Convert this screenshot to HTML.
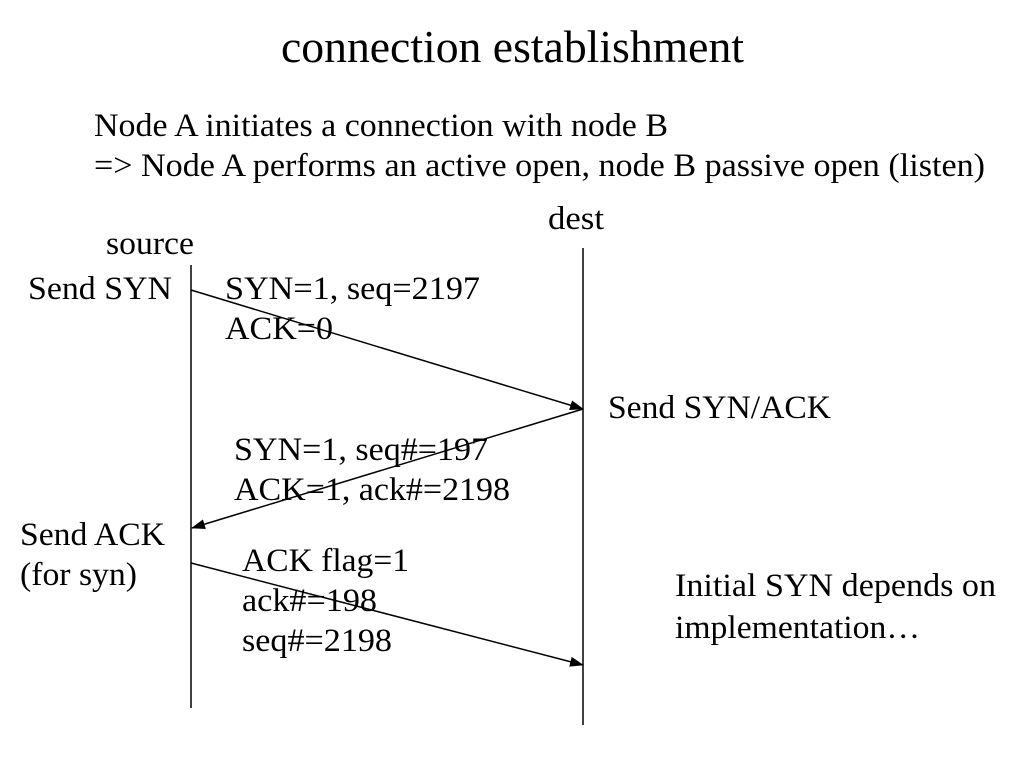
<!DOCTYPE html>
<html><head><meta charset="utf-8"><style>
html,body{margin:0;padding:0;background:#fff;}
svg{display:block;}
text{font-family:"Liberation Serif",serif;fill:#000;}
</style></head><body>
<svg width="1024" height="768" viewBox="0 0 1024 768" xmlns="http://www.w3.org/2000/svg">
<defs><marker id="a" markerWidth="14" markerHeight="10" refX="13" refY="5" orient="auto" markerUnits="userSpaceOnUse"><path d="M0,0 L14,5 L0,10 Z" fill="#000"/></marker></defs>
<g font-size="33" lengthAdjust="spacingAndGlyphs">
<text x="281" y="62" font-size="46" textLength="463" lengthAdjust="spacingAndGlyphs">connection establishment</text>
<text x="94" y="136" textLength="574" lengthAdjust="spacingAndGlyphs">Node A initiates a connection with node B</text>
<text x="94" y="176" textLength="891" lengthAdjust="spacingAndGlyphs">=&gt; Node A performs an active open, node B passive open (listen)</text>
<text x="548" y="229" textLength="56" lengthAdjust="spacingAndGlyphs">dest</text>
<text x="106" y="254" textLength="88" lengthAdjust="spacingAndGlyphs">source</text>
<text x="28" y="299" textLength="144" lengthAdjust="spacingAndGlyphs">Send SYN</text>
<text x="225" y="299" textLength="255" lengthAdjust="spacingAndGlyphs">SYN=1, seq=2197</text>
<text x="225" y="339" textLength="108" lengthAdjust="spacingAndGlyphs">ACK=0</text>
<text x="608" y="418" textLength="223" lengthAdjust="spacingAndGlyphs">Send SYN/ACK</text>
<text x="234" y="460" textLength="254" lengthAdjust="spacingAndGlyphs">SYN=1, seq#=197</text>
<text x="234" y="500" textLength="276" lengthAdjust="spacingAndGlyphs">ACK=1, ack#=2198</text>
<text x="20" y="545" textLength="145" lengthAdjust="spacingAndGlyphs">Send ACK</text>
<text x="20" y="585" textLength="117" lengthAdjust="spacingAndGlyphs">(for syn)</text>
<text x="242" y="571" textLength="167" lengthAdjust="spacingAndGlyphs">ACK flag=1</text>
<text x="242" y="611" textLength="135" lengthAdjust="spacingAndGlyphs">ack#=198</text>
<text x="242" y="651" textLength="150" lengthAdjust="spacingAndGlyphs">seq#=2198</text>
<text x="675" y="596" textLength="321" lengthAdjust="spacingAndGlyphs">Initial SYN depends on</text>
<text x="675" y="638" textLength="245" lengthAdjust="spacingAndGlyphs">implementation…</text>
</g>
<line x1="191" y1="265" x2="191" y2="708" stroke="#000" stroke-width="1.5"/>
<line x1="583" y1="248" x2="583" y2="725" stroke="#000" stroke-width="1.5"/>
<line x1="191" y1="290" x2="583" y2="409" stroke="#000" stroke-width="1.5" marker-end="url(#a)"/>
<line x1="583" y1="409" x2="192" y2="528" stroke="#000" stroke-width="1.5" marker-end="url(#a)"/>
<line x1="191" y1="563" x2="583" y2="665" stroke="#000" stroke-width="1.5" marker-end="url(#a)"/>
</svg>
</body></html>
